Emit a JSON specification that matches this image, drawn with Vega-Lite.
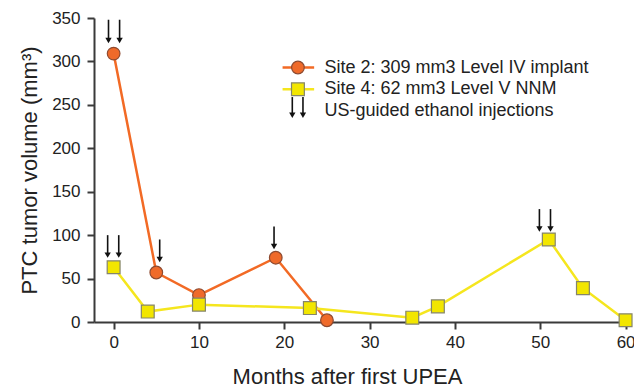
{
  "$schema": "https://vega.github.io/schema/vega-lite/v6.json",
  "width": 535,
  "height": 304,
  "autosize": {"type": "none"},
  "padding": {"left": 94, "top": 18, "right": 5, "bottom": 65},
  "background": "white",
  "config": {
    "view": {"stroke": null},
    "font": "Liberation Sans",
    "axis": {
      "domainColor": "#3a3a3a", "domainWidth": 2, "tickColor": "#3a3a3a", "tickWidth": 2, "tickSize": 7,
      "labelFont": "Liberation Sans", "labelFontSize": 17, "labelColor": "#222",
      "titleFont": "Liberation Sans", "titleFontSize": 22, "titleFontWeight": "normal", "titleColor": "#222",
      "grid": false
    }
  },
  "datasets": {
    "series": [
      {"series": "Site 2", "month": 0, "volume": 309},
      {"series": "Site 2", "month": 5, "volume": 57},
      {"series": "Site 2", "month": 10, "volume": 31},
      {"series": "Site 2", "month": 19, "volume": 74},
      {"series": "Site 2", "month": 25, "volume": 2},
      {"series": "Site 4", "month": 0, "volume": 63},
      {"series": "Site 4", "month": 4, "volume": 12},
      {"series": "Site 4", "month": 10, "volume": 20},
      {"series": "Site 4", "month": 23, "volume": 16},
      {"series": "Site 4", "month": 35, "volume": 5},
      {"series": "Site 4", "month": 38, "volume": 18},
      {"series": "Site 4", "month": 51, "volume": 95},
      {"series": "Site 4", "month": 55, "volume": 39},
      {"series": "Site 4", "month": 60, "volume": 2}
    ],
    "arrows": [
      {"x": -0.6, "top": 348, "head": 324},
      {"x": 0.7, "top": 348, "head": 324},
      {"x": -0.7, "top": 100, "head": 77},
      {"x": 0.6, "top": 100, "head": 77},
      {"x": 5.4, "top": 95, "head": 72},
      {"x": 18.8, "top": 110, "head": 87},
      {"x": 49.9, "top": 130, "head": 107},
      {"x": 51.2, "top": 130, "head": 107},
      {"x": 20.94, "top": 259, "head": 238},
      {"x": 22.19, "top": 259, "head": 238}
    ],
    "legend": [
      {"series": "Site 2", "x1": 19.8, "x2": 23.5, "xm": 21.6, "xt": 24.7, "y": 293, "label": "Site 2: 309 mm3 Level IV implant"},
      {"series": "Site 4", "x1": 19.8, "x2": 23.5, "xm": 21.6, "xt": 24.7, "y": 268, "label": "Site 4: 62 mm3 Level V NNM"},
      {"series": "Arrow", "xt": 24.7, "y": 243, "label": "US-guided ethanol injections"}
    ]
  },
  "layer": [
    {
      "data": {"name": "series"},
      "transform": [{"filter": "datum.series === 'Site 2'"}],
      "mark": {"type": "line", "color": "#F26A25", "strokeWidth": 2.5},
      "encoding": {
        "x": {"field": "month", "type": "quantitative",
              "scale": {"domain": [-2.3, 60.4], "nice": false, "zero": false},
              "axis": {"values": [0, 10, 20, 30, 40, 50, 60], "title": "Months after first UPEA", "labelPadding": 5, "titleX": 253, "titleY": 61, "titleBaseline": "alphabetic"}},
        "y": {"field": "volume", "type": "quantitative",
              "scale": {"domain": [0, 350], "nice": false},
              "axis": {"values": [0, 50, 100, 150, 200, 250, 300, 350], "title": "PTC tumor volume (mm³)", "labelPadding": 7, "titlePadding": 10}}
      }
    },
    {
      "data": {"name": "series"},
      "transform": [{"filter": "datum.series === 'Site 2'"}],
      "mark": {"type": "point", "shape": "circle", "filled": true, "fill": "#EF6A2A", "stroke": "#8E4A30", "strokeWidth": 1.2, "size": 160, "opacity": 1},
      "encoding": {
        "x": {"field": "month", "type": "quantitative"},
        "y": {"field": "volume", "type": "quantitative"}
      }
    },
    {
      "data": {"name": "series"},
      "transform": [{"filter": "datum.series === 'Site 4'"}],
      "mark": {"type": "line", "color": "#F5E61E", "strokeWidth": 2.5},
      "encoding": {
        "x": {"field": "month", "type": "quantitative"},
        "y": {"field": "volume", "type": "quantitative"}
      }
    },
    {
      "data": {"name": "series"},
      "transform": [{"filter": "datum.series === 'Site 4'"}],
      "mark": {"type": "point", "shape": "square", "filled": true, "fill": "#F2E600", "stroke": "#85856A", "strokeWidth": 1.2, "size": 165, "opacity": 1},
      "encoding": {
        "x": {"field": "month", "type": "quantitative"},
        "y": {"field": "volume", "type": "quantitative"}
      }
    },
    {
      "data": {"name": "arrows"},
      "mark": {"type": "rule", "color": "#111", "strokeWidth": 1.6},
      "encoding": {
        "x": {"field": "x", "type": "quantitative"},
        "y": {"field": "top", "type": "quantitative"},
        "y2": {"field": "head"}
      }
    },
    {
      "data": {"name": "arrows"},
      "mark": {"type": "point", "shape": "triangle-down", "filled": true, "color": "#111", "size": 40, "opacity": 1},
      "encoding": {
        "x": {"field": "x", "type": "quantitative"},
        "y": {"field": "head", "type": "quantitative"}
      }
    },
    {
      "data": {"name": "legend"},
      "transform": [{"filter": "datum.series === 'Site 2'"}],
      "mark": {"type": "rule", "color": "#F26A25", "strokeWidth": 2.5},
      "encoding": {
        "x": {"field": "x1", "type": "quantitative"},
        "x2": {"field": "x2"},
        "y": {"field": "y", "type": "quantitative"}
      }
    },
    {
      "data": {"name": "legend"},
      "transform": [{"filter": "datum.series === 'Site 2'"}],
      "mark": {"type": "point", "shape": "circle", "filled": true, "fill": "#EF6A2A", "stroke": "#8E4A30", "strokeWidth": 1.2, "size": 160, "opacity": 1},
      "encoding": {
        "x": {"field": "xm", "type": "quantitative"},
        "y": {"field": "y", "type": "quantitative"}
      }
    },
    {
      "data": {"name": "legend"},
      "transform": [{"filter": "datum.series === 'Site 4'"}],
      "mark": {"type": "rule", "color": "#F5E61E", "strokeWidth": 2.5},
      "encoding": {
        "x": {"field": "x1", "type": "quantitative"},
        "x2": {"field": "x2"},
        "y": {"field": "y", "type": "quantitative"}
      }
    },
    {
      "data": {"name": "legend"},
      "transform": [{"filter": "datum.series === 'Site 4'"}],
      "mark": {"type": "point", "shape": "square", "filled": true, "fill": "#F2E600", "stroke": "#85856A", "strokeWidth": 1.2, "size": 165, "opacity": 1},
      "encoding": {
        "x": {"field": "xm", "type": "quantitative"},
        "y": {"field": "y", "type": "quantitative"}
      }
    },
    {
      "data": {"name": "legend"},
      "mark": {"type": "text", "align": "left", "baseline": "middle", "fontSize": 18, "color": "#222", "font": "Liberation Sans"},
      "encoding": {
        "x": {"field": "xt", "type": "quantitative"},
        "y": {"field": "y", "type": "quantitative"},
        "text": {"field": "label"}
      }
    }
  ]
}
